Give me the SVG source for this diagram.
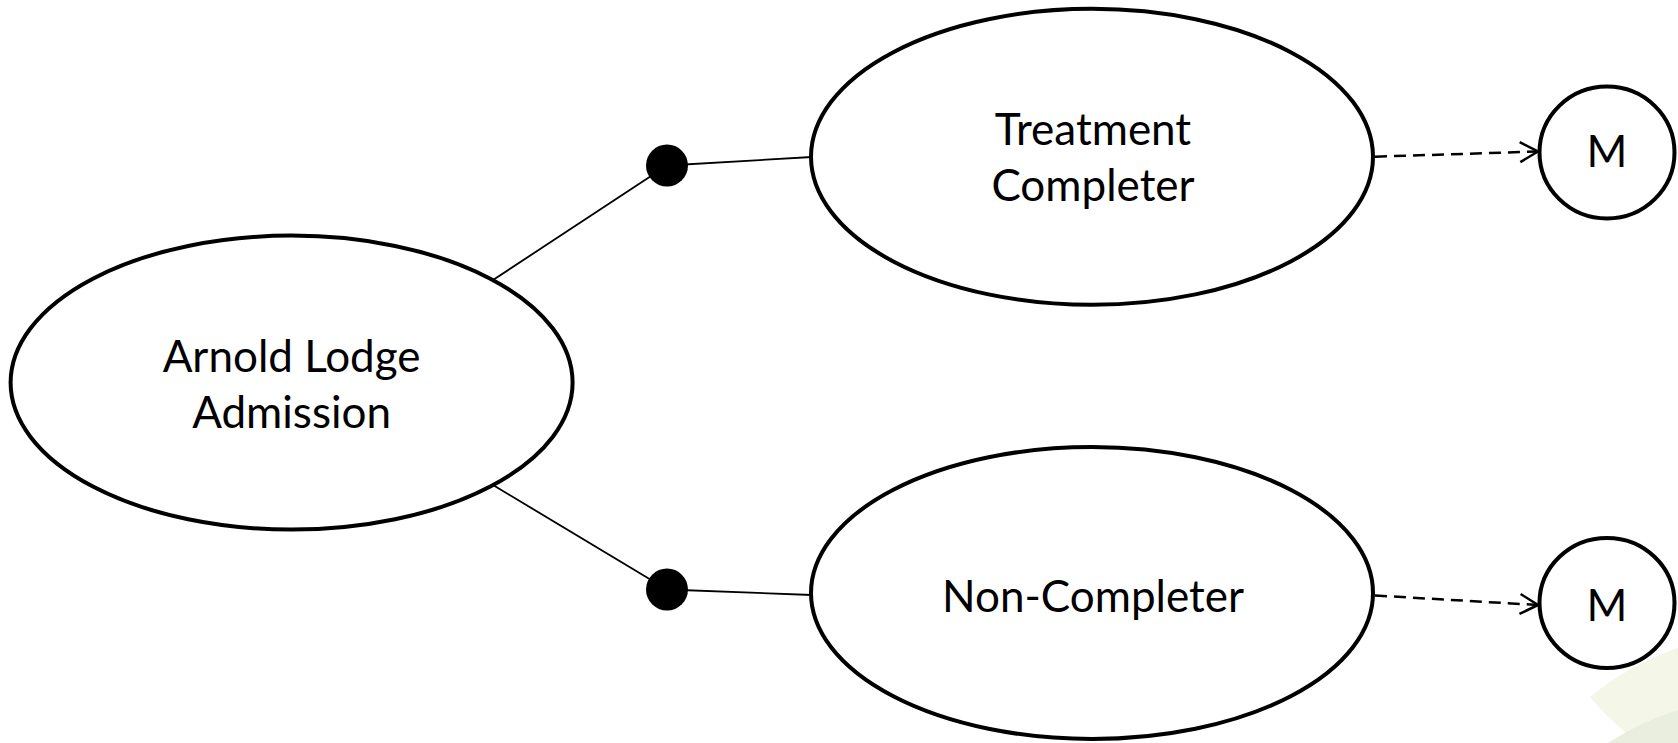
<svg xmlns="http://www.w3.org/2000/svg" width="1678" height="743" viewBox="0 0 1678 743">
  <style>
    .node { fill: #ffffff; stroke: #000000; stroke-width: 4; }
    .lbl { font-family: Lato, "Open Sans", "Liberation Sans", sans-serif; font-size: 44px; fill: #000000; text-anchor: middle; }
    .link { stroke: #000000; stroke-width: 1.8; fill: none; }
    .dash { stroke: #000000; stroke-width: 2.5; fill: none; stroke-dasharray: 12 7; }
    .dot { fill: #000000; }
  </style>
  <defs>
    <marker id="open" viewBox="0 0 20 24" refX="19" refY="12" markerWidth="20" markerHeight="24" markerUnits="userSpaceOnUse" orient="auto">
      <path d="M1,2 L19,12 L1,22" fill="none" stroke="#000000" stroke-width="2.5"/>
    </marker>
  </defs>
  <rect width="1678" height="743" fill="#ffffff"/>
  <g id="background">
    <path d="M1590,697 Q1630,664 1678,648 L1678,743 L1640,743 Q1610,722 1590,697 Z" fill="#f4f7e8"/>
    <path d="M1608,743 Q1640,722 1678,710 L1678,743 Z" fill="#e9eedf"/>
  </g>
  <g id="connectors">
    <line class="link" x1="493" y1="280" x2="667" y2="165.5"/>
    <line class="link" x1="667" y1="165.5" x2="812" y2="157"/>
    <line class="link" x1="493" y1="485" x2="667" y2="589.5"/>
    <line class="link" x1="667" y1="589.5" x2="812" y2="595"/>
    <line class="dash" x1="1375" y1="156.7" x2="1538" y2="151.5" marker-end="url(#open)"/>
    <line class="dash" x1="1375" y1="595.5" x2="1538" y2="605" marker-end="url(#open)"/>
    <circle class="dot" cx="667" cy="165.5" r="21"/>
    <circle class="dot" cx="667" cy="589.5" r="21"/>
  </g>
  <g id="admission">
    <ellipse class="node" cx="291.6" cy="382.6" rx="281" ry="147"/>
    <text class="lbl" x="291.6" y="372">Arnold Lodge</text>
    <text class="lbl" x="291.6" y="428">Admission</text>
  </g>
  <g id="completer">
    <ellipse class="node" cx="1092" cy="156.8" rx="281" ry="148"/>
    <text class="lbl" x="1093" y="145">Treatment</text>
    <text class="lbl" x="1093" y="201">Completer</text>
  </g>
  <g id="noncompleter">
    <ellipse class="node" cx="1092" cy="593" rx="281" ry="146"/>
    <text class="lbl" x="1093" y="612">Non-Completer</text>
  </g>
  <g id="m1">
    <ellipse class="node" cx="1607" cy="152.5" rx="67.5" ry="66"/>
    <text class="lbl" x="1607" y="167">M</text>
  </g>
  <g id="m2">
    <ellipse class="node" cx="1607" cy="603" rx="67.5" ry="65"/>
    <text class="lbl" x="1607" y="621">M</text>
  </g>
</svg>
